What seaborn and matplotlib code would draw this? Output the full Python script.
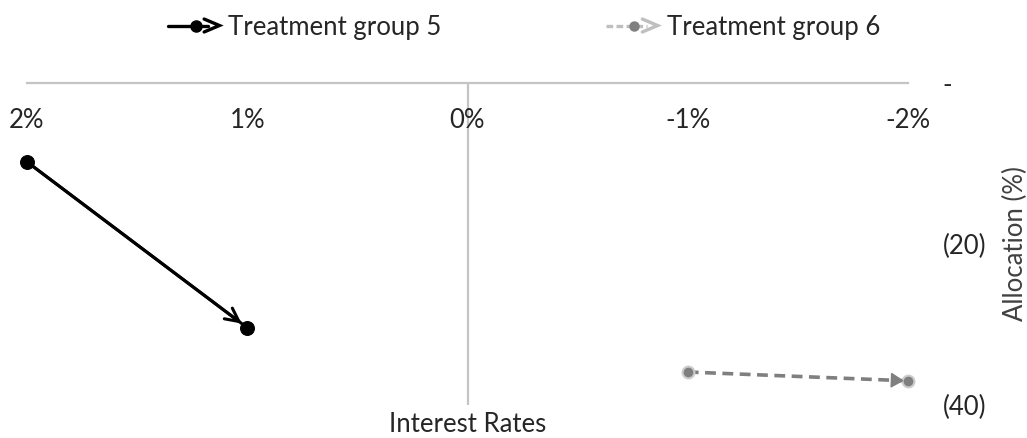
import matplotlib
matplotlib.use("Agg")
import matplotlib.pyplot as plt
from matplotlib.lines import Line2D
from matplotlib.legend_handler import HandlerBase
from matplotlib.ticker import FuncFormatter, FixedLocator
import numpy as np
import pandas as pd
import seaborn as sns

# Interest rate paths (%) and allocation changes (%) for each treatment group
groups = ["Treatment group 5", "Treatment group 6"]
g5_rates = [2, 1]
g5_alloc = [-9.8, -30.4]
g6_rates = [-1, -2]
g6_alloc = [-35.9, -37.0]
x_ticks = [2, 1, 0, -1, -2]
y_ticks = [0, -20, -40]

df = pd.DataFrame({
    "rate": g5_rates + g6_rates,
    "alloc": g5_alloc + g6_alloc,
    "group": [groups[0]] * len(g5_rates) + [groups[1]] * len(g6_rates),
})

sns.set_theme(style="white")
plt.rcParams["font.family"] = ["Lato", "DejaVu Sans"]

BLACK = "#000000"
GRAY = "#7f7f7f"
LIGHT = "#bfbfbf"
AXIS = "#c4c4c4"
TXT = "#262626"
FS = 18.5

fig = plt.figure(figsize=(10.27, 4.38), dpi=100)
ax = fig.add_axes([27 / 1027, 1 - 405 / 438, (908 - 27) / 1027, (405 - 83) / 438])

sns.lineplot(
    data=df, x="rate", y="alloc", hue="group", style="group",
    palette={groups[0]: BLACK, groups[1]: GRAY},
    markers={groups[0]: "o", groups[1]: "o"},
    dashes={groups[0]: "", groups[1]: (3, 1.8)},
    sort=False, legend=False, ax=ax, linewidth=2.2, markersize=10,
)
for ln in ax.lines:
    ln.set_clip_on(False)
    if ln.get_color() == GRAY:
        ln.set_markeredgecolor("#cccccc")
        ln.set_markeredgewidth(1.5)
        ln.set_markersize(8.5)
        ln.set_linewidth(2.6)
    else:
        ln.set_markeredgecolor(BLACK)

ax.set_xlim(2, -2)
ax.set_ylim(-40, 0)

# Direction arrows from first to last point of each path
ax.annotate("", xy=(g5_rates[-1], g5_alloc[-1]), xytext=(g5_rates[0], g5_alloc[0]),
            arrowprops=dict(arrowstyle="->", color=BLACK, lw=2.2,
                            mutation_scale=24, shrinkA=0, shrinkB=5))

# Group 6: short filled head only, aligned with the segment direction
p0 = ax.transData.transform((g6_rates[-2], g6_alloc[-2]))
p1 = ax.transData.transform((g6_rates[-1], g6_alloc[-1]))
d = (p0 - p1) / np.hypot(*(p0 - p1))
back = 16 * d * 72 / fig.dpi * (fig.dpi / 72)  # offset in points
arr6 = ax.annotate("", xy=(g6_rates[-1], g6_alloc[-1]),
                   xytext=(back[0] * 72 / fig.dpi, back[1] * 72 / fig.dpi),
                   textcoords="offset points",
                   arrowprops=dict(arrowstyle="-|>,head_length=0.5,head_width=0.3",
                                   color=GRAY, lw=1.0, mutation_scale=16,
                                   shrinkA=0, shrinkB=3))
arr6.arrow_patch.set_clip_on(False)
arr6.set_zorder(5)

ax.axvline(0, color=AXIS, lw=1.6, zorder=0)

for side in ["left", "right", "bottom"]:
    ax.spines[side].set_visible(False)
ax.spines["top"].set_color(AXIS)
ax.spines["top"].set_linewidth(1.6)

ax.xaxis.set_major_locator(FixedLocator(x_ticks))
ax.xaxis.set_major_formatter(FuncFormatter(lambda v, p: f"{v:.0f}%".replace("\u2212", "-")))
ax.tick_params(axis="x", top=False, bottom=False, labeltop=True, labelbottom=False,
               length=0, pad=-36, labelsize=FS, labelcolor=TXT)

def acct(v, p):
    if abs(v) < 1e-9:
        return "-"
    return f"({abs(v):.0f})" if v < 0 else f"{v:.0f}"

ax.yaxis.set_major_locator(FixedLocator(y_ticks))
ax.yaxis.set_major_formatter(FuncFormatter(acct))
ax.yaxis.tick_right()
ax.tick_params(axis="y", left=False, right=False, labelleft=False, labelright=True,
               length=0, pad=25, labelsize=FS, labelcolor=TXT)
ax.yaxis.set_label_position("right")
ax.set_ylabel("Allocation (%)", fontsize=FS, color="#404040", labelpad=12)
ax.set_xlabel("Interest Rates", fontsize=FS, color=TXT, labelpad=5)
ax.grid(False)


class ArrowHandler(HandlerBase):
    def __init__(self, line_color, dot_color, head_color, dashed):
        super().__init__()
        self.line_color = line_color
        self.dot_color = dot_color
        self.head_color = head_color
        self.dashed = dashed

    def create_artists(self, legend, orig_handle, xdescent, ydescent,
                       width, height, fontsize, trans):
        y = height / 2 - ydescent
        x0 = -xdescent
        x1 = x0 + width
        ls = (0, (2, 1)) if self.dashed else "-"
        line = Line2D([x0, x1 - 8], [y, y], color=self.line_color, lw=2.4, ls=ls)
        dot = Line2D([x0 + width * 0.55], [y], marker="o",
                     markersize=8 if not self.dashed else 6.5,
                     color=self.dot_color, markeredgecolor=self.dot_color, ls="")
        h = height * 0.36
        head = Line2D([x1 - 11, x1, x1 - 11], [y + h, y, y - h],
                      color=self.head_color, lw=2.4, solid_joinstyle="miter")
        arts = [line, dot, head]
        for a in arts:
            a.set_transform(trans)
        return arts


h5 = Line2D([], [], color=BLACK)
h6 = Line2D([], [], color=LIGHT)
fig.legend(
    [h5, h6], groups, loc="center", bbox_to_anchor=(524 / 1027, 1 - 27 / 438),
    ncol=2, frameon=False, fontsize=FS, handlelength=2.0, handletextpad=0.35,
    columnspacing=6.4, labelcolor=TXT,
    handler_map={h5: ArrowHandler(BLACK, BLACK, BLACK, False),
                 h6: ArrowHandler(LIGHT, GRAY, LIGHT, True)},
)

fig.savefig("out.png", dpi=100)
